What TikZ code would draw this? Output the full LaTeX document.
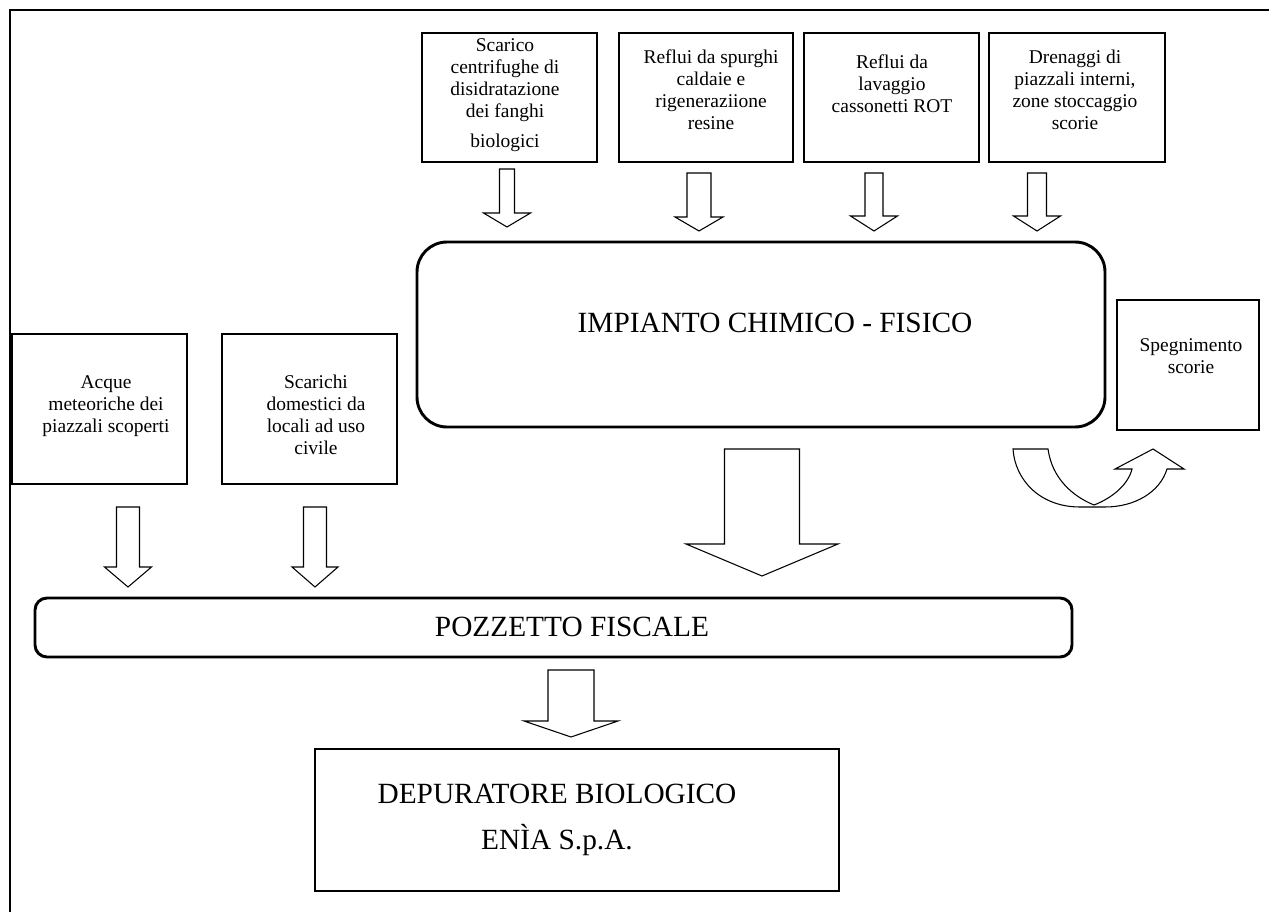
\documentclass[tikz,border=0pt]{standalone}
\usepackage{fontspec}
\setmainfont{Liberation Serif}
\usetikzlibrary{positioning}

\tikzset{
  box/.style={draw, line width=0.8pt, rectangle, inner sep=0pt},
  thickbox/.style={draw, line width=2.2pt, rectangle, inner sep=0pt},
  txt/.style={align=center, inner sep=0pt, font=\fontsize{14.6}{16.5}\selectfont},
  bigtxt/.style={align=center, inner sep=0pt, font=\fontsize{22}{34.5}\selectfont},
  blockarrow/.style={draw, line width=0.8pt, fill=white, line join=miter},
  frame/.style={line width=1.3pt}
}

% block arrow: x centre, shaft top, head base, tip, half shaft, half head
\newcommand{\blockarrow}[6]{%
  \draw[blockarrow] (#1-#5,#2) -- (#1+#5,#2) -- (#1+#5,#3) -- (#1+#6,#3)
    -- (#1,#4) -- (#1-#6,#3) -- (#1-#5,#3) -- cycle;}

\begin{document}
\begin{tikzpicture}[x=0.75pt,y=0.75pt,yscale=-1,xscale=1]
\useasboundingbox (0,0) rectangle (1269,912);

%Frame
\draw[frame] (10,912) -- (10,10) -- (1269,10);

%Inlet boxes (top row)
\node[box, minimum width=131.25pt, minimum height=96.75pt] (centrif) at (509.5,97.5) {};
\node[box, minimum width=130.5pt, minimum height=96.75pt] (spurghi) at (706,97.5) {};
\node[box, minimum width=131.25pt, minimum height=96.75pt] (lavaggio) at (891.5,97.5) {};
\node[box, minimum width=132pt, minimum height=96.75pt] (drenaggi) at (1077,97.5) {};

%Inlet boxes (left)
\node[box, minimum width=131.25pt, minimum height=112.5pt] (meteo) at (99.5,409) {};
\node[box, minimum width=131.25pt, minimum height=112.5pt] (domestici) at (309.5,409) {};

%Spegnimento
\node[box, minimum width=106.5pt, minimum height=97.5pt] (spegn) at (1188,365) {};

%Main units
\node[thickbox, rounded corners=22.5pt, minimum width=516pt, minimum height=138.75pt] (impianto) at (761,334.5) {};
\node[thickbox, rounded corners=9pt, minimum width=777.75pt, minimum height=44.25pt] (pozzetto) at (553.5,627.5) {};
\node[thickbox, minimum width=393pt, minimum height=106.5pt] (depuratore) at (577,820) {};

% Text Node
\node[txt] (tcentrif) at (505,95) {Scarico\\centrifughe di\\disidratazione\\dei fanghi\\[6pt]biologici};
\node[txt] (tspurghi) at (711,90) {Reflui da spurghi\\caldaie e\\rigeneraziione\\resine};
\node[txt] (tlavaggio) at (892,84) {Reflui da\\lavaggio\\cassonetti ROT};
\node[txt] (tdrenaggi) at (1075,90) {Drenaggi di\\piazzali interni,\\zone stoccaggio\\scorie};
\node[txt] (tmeteo) at (106,406) {Acque\\meteoriche dei\\piazzali scoperti};
\node[txt] (tdomestici) at (316,415) {Scarichi\\domestici da\\locali ad uso\\civile};
\node[txt] (tspegn) at (1191,356) {Spegnimento\\scorie};
\node[bigtxt] (timpianto) at (775,323) {IMPIANTO CHIMICO - FISICO};
\node[bigtxt] (tpozzetto) at (572,627) {POZZETTO FISCALE};
\node[bigtxt] (tdepuratore) at (557,820) {DEPURATORE BIOLOGICO\\ENÌA S.p.A.};

%Block arrows
\blockarrow{507}{169}{213}{227}{7.5}{23.5}
\blockarrow{699}{173}{217}{231}{12}{24}
\blockarrow{874}{173}{216}{231}{9}{23.5}
\blockarrow{1037}{173}{216}{231}{9.5}{23.5}
\blockarrow{128}{507}{567}{587}{11.5}{23.5}
\blockarrow{315}{507}{567}{587}{11.5}{23}
\blockarrow{762}{449}{544}{576}{37.5}{76}
\blockarrow{571}{670}{721}{737}{23}{47}

%U-turn arrow to spegnimento
\draw[blockarrow] (1013,449) -- (1048,449) .. controls (1052,478) and (1072,496) .. (1094,505)
  .. controls (1112,498) and (1128,485) .. (1132,469) -- (1115,469) -- (1153,449) -- (1184,469)
  -- (1167,469) .. controls (1160,492) and (1135,507) .. (1105,507) -- (1080,507)
  .. controls (1040,507) and (1015,480) .. (1013,449) -- cycle;

\end{tikzpicture}
\end{document}
